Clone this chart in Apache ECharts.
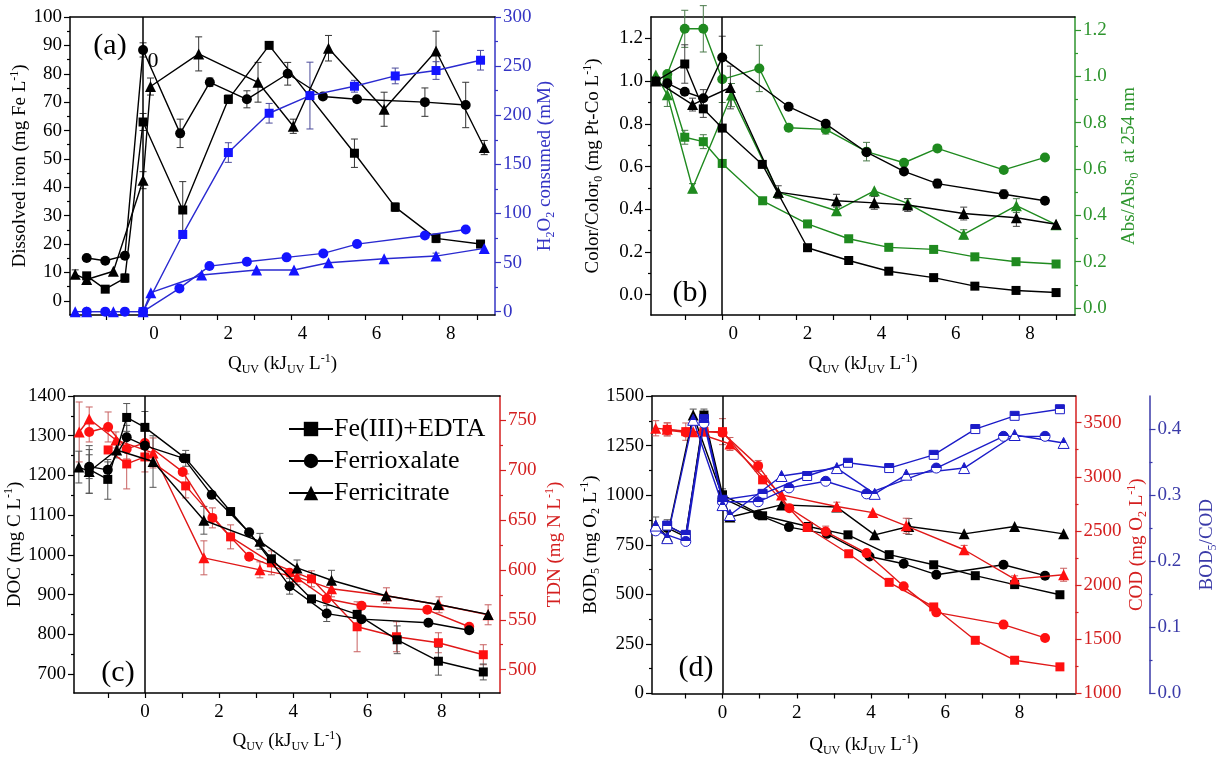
<!DOCTYPE html>
<html>
<head>
<meta charset="utf-8">
<script src="https://cdn.jsdelivr.net/npm/echarts@6/dist/echarts.min.js"></script>
<style>html,body{margin:0;padding:0;background:#fff}#chart{width:1220px;height:758px}</style>
</head>
<body>
<div id="chart"></div>
<script>
const SERIF = 'Liberation Serif';

// ---------- shared x axis (UV dose) ----------
const qTickLabels = [0, 2, 4, 6, 8];
const qRangeA = [-1.97, 9.49];
const qRangeB = [-1.92, 9.51];
const qRangeC = [-1.91, 9.57];
const qRangeD = [-1.90, 9.51];

// ---------- panel (a): dissolved iron / H2O2 consumed ----------
// points are [Q_UV, value, error]
const ironEdta = [[-1.52,8.8],[-1.02,4.1],[-0.49,8.0,1.5],[0,63,3],[1.07,32,10],[2.3,71,1.5],[3.4,90],[5.7,52,5],[6.8,33,1.5],[7.9,22,1.5],[9.1,20,1]];
const ironOxalate = [[-1.52,15.1],[-1.02,14.1],[-0.49,15.9],[0,88.4,2.5],[1.0,59,5],[1.8,77,1.5],[2.8,71,3],[3.9,80,4],[4.85,72,1],[5.77,71,1],[7.6,70,5],[8.7,69,8]];
const ironCitrate = [[-1.83,9.4,1.5],[-1.52,7.5],[-0.8,10.4],[0,42.5,3],[0.2,75.5,3],[1.5,87,6],[3.1,77,7],[4.05,61.5,2.5],[5.0,89,4.5],[6.5,67.5,6],[7.9,88,7],[9.2,54,2.5]];
const h2o2Edta = [[0,0],[1.07,78.6,3],[2.3,162,10],[3.4,202,10],[4.5,220,34],[5.7,229.5,6],[6.8,240,8],[7.9,245.5,9],[9.1,256,10]];
const h2o2Oxalate = [[-1.52,0],[-1.02,0],[-0.49,0],[0,0],[0.98,23.7,2],[1.79,46.4,2],[2.8,50.8],[3.87,55.3],[4.86,59.3],[5.77,68.8],[7.6,77.6],[8.7,83.7]];
const h2o2Citrate = [[-1.83,0],[-1.52,0],[-0.8,0],[0,0],[0.21,19.3],[1.58,37.3],[3.06,42.4],[4.07,42.4],[5.0,49.8],[6.5,53.9],[7.9,56.6,3],[9.2,64.4]];
const ironTicks = [0,10,20,30,40,50,60,70,80,90,100];
const ironMinor = [5,15,25,35,45,55,65,75,85,95];
const h2o2Ticks = [0,50,100,150,200,250,300];
const h2o2Minor = [25,75,125,175,225,275];

// ---------- panel (b): colour and absorbance ----------
const colorEdta = [[-1.79,1.0],[-1.01,1.08,0.09],[-0.51,0.87,0.04],[0,0.78],[1.08,0.61],[2.3,0.22],[3.41,0.16],[4.49,0.11],[5.7,0.08],[6.81,0.04],[7.92,0.02],[9.0,0.01]];
const colorOxalate = [[-1.48,0.99],[-1.01,0.95],[-0.51,0.92,0.04],[0,1.11,0.1],[1.79,0.88],[2.79,0.80],[3.89,0.667],[4.9,0.577],[5.8,0.52,0.02],[7.59,0.47,0.02],[8.7,0.44]];
const colorCitrate = [[-1.79,1.0],[-0.80,0.89,0.03],[0.22,0.97,0.1],[1.51,0.48,0.03],[3.08,0.44,0.03],[4.1,0.43,0.03],[5.0,0.42,0.03],[6.51,0.38,0.03],[7.93,0.36,0.04],[9.0,0.33]];
const absEdta = [[-1.48,0.98],[-1.01,0.737,0.03],[-0.51,0.718,0.03],[0,0.624],[1.09,0.463],[2.3,0.363],[3.41,0.299],[4.49,0.262],[5.7,0.253],[6.81,0.221],[7.92,0.2],[9.0,0.19]];
const absOxalate = [[-1.48,1.01],[-1.01,1.205,0.08],[-0.51,1.205,0.1],[0,0.987,0.1],[1.0,1.034,0.1],[1.79,0.778],[2.79,0.771,0.02],[3.89,0.675,0.04],[4.9,0.627],[5.8,0.689],[7.59,0.596],[8.7,0.65]];
const absCitrate = [[-1.79,1.006],[-1.48,0.92,0.05],[-0.80,0.517,0.02],[0.25,0.919,0.05],[1.51,0.499],[3.08,0.42,0.02],[4.1,0.506],[5.0,0.452,0.02],[6.51,0.318,0.02],[7.93,0.442,0.03],[9.0,0.36]];
const colorTicks = [0,0.2,0.4,0.6,0.8,1.0,1.2];
const colorMinor = [0.1,0.3,0.5,0.7,0.9,1.1];
const absTicks = [0,0.2,0.4,0.6,0.8,1.0,1.2];
const absMinor = [0.1,0.3,0.5,0.7,0.9,1.1];

// ---------- panel (c): DOC / TDN ----------
const docEdta = [[-1.5,1215,60],[-1.0,1190,50],[-0.49,1346,35],[0,1321,40],[1.1,1243,20],[2.31,1109],[3.41,990],[4.49,889],[5.72,850],[6.8,786,35],[7.91,732,35],[9.12,705,20]];
const docOxalate = [[-1.5,1222,30],[-1.0,1214,20],[-0.49,1296,30],[0,1275],[1.05,1243],[1.8,1151],[2.81,1057],[3.9,921,20],[4.9,852,20],[5.84,838],[7.64,829],[8.74,810]];
const docCitrate = [[-1.78,1221,40],[-1.5,1210,55],[-0.76,1264,20],[0.22,1235,65],[1.59,1087,35],[3.1,1034,20],[4.1,967,20],[5.03,936,25],[6.5,897],[7.9,875],[9.25,850]];
const tdnEdta = [[-0.99,720],[-0.49,706,25],[0,713,15],[1.1,684,12],[2.31,633,12],[3.41,607,12],[4.49,591,8],[5.72,543,25],[6.78,533,15],[7.91,527,10],[9.12,515,10]];
const tdnOxalate = [[-1.5,738,10],[-0.99,743,15],[-0.49,721,10],[0,727,15],[1.02,698],[1.82,652,10],[2.81,613],[3.9,597],[4.9,571],[5.84,564],[7.61,560],[8.74,543]];
const tdnCitrate = [[-1.77,738,30],[-1.5,751,12],[-0.78,730,8],[0.22,717,15],[1.59,612,17],[3.1,600,8],[4.1,593,8],[5.03,581,8],[6.51,574,8],[7.93,565,8],[9.25,555,10]];
const docTicks = [700,800,900,1000,1100,1200,1300,1400];
const docMinor = [750,850,950,1050,1150,1250,1350];
const tdnTicks = [500,550,600,650,700,750];
const tdnMinor = [525,575,625,675,725];

// ---------- panel (d): BOD5 / COD / BOD5:COD ----------
const bodEdta = [[-1.49,846,30],[-0.99,800],[-0.5,1404,30],[0,1002,30],[1.08,896,15],[2.31,842],[3.38,800],[4.49,700],[5.69,649],[6.81,594],[7.87,549],[9.09,498]];
const bodOxalate = [[-1.49,835],[-0.99,790],[-0.5,1395,25],[0,985],[0.96,901],[1.79,839],[2.81,805],[3.96,691],[4.88,654],[5.76,599],[7.57,649],[8.69,594]];
const bodCitrate = [[-1.8,850,40],[-1.49,790],[-0.79,1404,30],[0.2,890,20],[1.59,951],[3.08,940],[4.1,800],[5.02,842,40],[6.51,805],[7.87,842],[9.19,805]];
const codEdta = [[-1.49,3438,60],[-0.99,3417,80],[-0.5,3417],[0,3417,120],[1.08,2972],[2.28,2532],[3.40,2290],[4.49,2026],[5.69,1799],[6.81,1491],[7.87,1307,30],[9.09,1246,30]];
const codOxalate = [[-1.49,3430],[-0.99,3410],[-0.5,3417],[0,3407],[0.96,3101,50],[1.8,2711],[2.78,2495,50],[3.88,2296],[4.88,1989],[5.76,1749],[7.57,1636],[8.69,1513]];
const codCitrate = [[-1.8,3448,70],[-1.49,3438,60],[-0.79,3417],[0.2,3303,60],[1.59,2833],[3.08,2726,40],[4.05,2670],[4.95,2548,70],[6.51,2327,40],[7.87,2056,30],[9.19,2096,60]];
const ratioEdta = [[-1.49,0.254],[-0.99,0.24],[-0.5,0.415],[0,0.293],[1.08,0.302],[2.28,0.329],[3.38,0.349],[4.49,0.341],[5.69,0.361],[6.81,0.40],[7.87,0.42],[9.09,0.43]];
const ratioOxalate = [[-1.8,0.246],[-0.99,0.23],[-0.5,0.409],[0,0.29],[0.96,0.29],[1.79,0.311],[2.78,0.321],[3.88,0.302],[5.76,0.341],[7.57,0.389],[8.69,0.389]];
const ratioCitrate = [[-1.8,0.254],[-1.49,0.235],[-0.79,0.414],[0,0.285],[0.2,0.27],[1.59,0.329],[3.08,0.341],[4.1,0.302],[4.95,0.331],[6.51,0.341],[7.87,0.391],[9.19,0.379]];
const bodTicks = [0,250,500,750,1000,1250,1500];
const bodMinor = [125,375,625,875,1125,1375];
const codTicks = [1000,1500,2000,2500,3000,3500];
const codMinor = [1250,1750,2250,2750,3250];
const ratioTicks = [0,0.1,0.2,0.3,0.4];
const ratioMinor = [0.05,0.15,0.25,0.35];

const chelates = ['Fe(III)+EDTA', 'Ferrioxalate', 'Ferricitrate'];

// ---------- colours ----------
const BLACK = '#000000';
const BLUE = '#1414ff', BLUE_LINE = '#2a2ad0', BLUE_AXIS = '#3434c4';
const GREEN = '#1f8a1f', GREEN_AXIS = '#2e952e';
const RED = '#ff1010', RED_LINE = '#e01818', RED_AXIS = '#d42020';
const NAVY = '#1c1cc8', NAVY_AXIS = '#3a3aa8';

// ---------- text helpers ----------
function rich(color, size) {
  const small = Math.round(size * 0.62);
  return {
    n: {fontFamily: SERIF, fontSize: size, color, lineHeight: 24, verticalAlign: 'middle'},
    s: {fontFamily: SERIF, fontSize: small, color, padding: [11, 0, 0, 0], verticalAlign: 'middle'},
    p: {fontFamily: SERIF, fontSize: small, color, padding: [0, 0, 11, 0], verticalAlign: 'middle'}
  };
}
const T_Q = '{n|Q}{s|UV}{n| (kJ}{s|UV}{n| L}{p|-1}{n|)}';

// ---------- builders ----------
const grids = [], xAxes = [], yAxes = [], series = [];

function addGrid(rect) { grids.push(rect); return grids.length - 1; }

function addXAxis(g, range, shift, nameGap) {
  const ticks = [];
  for (let v = Math.ceil(range[0]); v <= Math.floor(range[1]); v++) ticks.push(v);
  xAxes.push({
    type: 'value', gridIndex: g, position: 'bottom', min: range[0], max: range[1],
    axisLine: {show: true, onZero: false, lineStyle: {color: BLACK, width: 1.5}},
    axisTick: {show: true, length: 5, customValues: ticks, lineStyle: {color: BLACK, width: 1.2}},
    axisLabel: {show: true, customValues: qTickLabels, fontFamily: SERIF, fontSize: 19, color: BLACK, margin: 10, padding: [0, 0, 0, shift]},
    splitLine: {show: false},
    name: T_Q, nameLocation: 'middle', nameGap,
    nameTextStyle: {fontFamily: SERIF, fontSize: 19, color: BLACK, rich: rich(BLACK, 19)}
  });
  const xi = xAxes.length - 1;
  xAxes.push({
    type: 'value', gridIndex: g, position: 'top', min: range[0], max: range[1],
    axisLine: {show: true, onZero: false, lineStyle: {color: BLACK, width: 1.5}},
    axisTick: {show: false}, axisLabel: {show: false}, splitLine: {show: false}
  });
  return xi;
}

function addYAxis(g, o) {
  const lc = o.labelColor || o.color;
  yAxes.push({
    type: 'value', gridIndex: g, position: o.pos, offset: o.offset || 0, min: o.range[0], max: o.range[1],
    axisLine: {show: true, onZero: false, lineStyle: {color: o.color, width: 1.5}},
    axisTick: {show: true, length: 6, customValues: o.majors, lineStyle: {color: o.color, width: 1.2}},
    axisLabel: {customValues: o.majors, formatter: o.fmt, fontFamily: SERIF, fontSize: 19, color: lc, margin: 8},
    splitLine: {show: false},
    name: o.name, nameLocation: 'middle', nameGap: o.nameGap, nameRotate: 90,
    nameTextStyle: {fontFamily: SERIF, fontSize: 19, color: lc, rich: rich(lc, 19)}
  });
  const yi = yAxes.length - 1;
  yAxes.push({
    type: 'value', gridIndex: g, position: o.pos, offset: o.offset || 0, min: o.range[0], max: o.range[1],
    axisLine: {show: false, onZero: false},
    axisTick: {show: true, length: 3, customValues: o.minors, lineStyle: {color: o.color, width: 1.2}},
    axisLabel: {show: false}, splitLine: {show: false}
  });
  return yi;
}

function errRender(params, api) {
  const x = api.value(0), y = api.value(1), e = api.value(2);
  const a = api.coord([x, y + e]), b = api.coord([x, y - e]);
  const st = {stroke: api.visual('color'), lineWidth: 1};
  return {type: 'group', children: [
    {type: 'line', shape: {x1: a[0], y1: a[1], x2: b[0], y2: b[1]}, style: st},
    {type: 'line', shape: {x1: a[0] - 3.5, y1: a[1], x2: a[0] + 3.5, y2: a[1]}, style: st},
    {type: 'line', shape: {x1: b[0] - 3.5, y1: b[1], x2: b[0] + 3.5, y2: b[1]}, style: st}
  ]};
}

const SIZE = {rect: 9, circle: 10, triangle: 11};

function addSeries(name, data, xi, yi, sym, o) {
  const s = {
    type: 'line', name, xAxisIndex: xi, yAxisIndex: yi,
    data: data.map(d => [d[0], d[1]]),
    symbol: sym, symbolSize: SIZE[sym],
    itemStyle: {color: o.fill, borderColor: o.border || o.fill, borderWidth: o.border ? 1 : 0},
    lineStyle: {color: o.line, width: 1.4},
    z: o.z || 3, silent: true, animation: false, emphasis: {disabled: true}
  };
  if (o.vline) {
    s.markLine = {silent: true, symbol: ['none', 'none'], label: {show: false}, animation: false,
      lineStyle: {color: BLACK, type: 'solid', width: 1.5}, data: [{xAxis: 0}]};
  }
  series.push(s);
  const errs = data.filter(d => d.length > 2);
  if (errs.length) {
    series.push({type: 'custom', xAxisIndex: xi, yAxisIndex: yi, data: errs, renderItem: errRender,
      encode: {x: 0, y: 1}, itemStyle: {color: o.err}, z: (o.z || 3) - 1, silent: true, animation: false});
  }
}

function halfFill(color) {
  return new echarts.graphic.LinearGradient(0, 0, 0, 1, [
    {offset: 0, color}, {offset: 0.5, color}, {offset: 0.5, color: '#ffffff'}, {offset: 1, color: '#ffffff'}
  ]);
}

const SYMS = ['rect', 'circle', 'triangle'];

// ---------- panel (a) ----------
const gA = addGrid({left: 70, top: 17, width: 425, height: 298});
const xA = addXAxis(gA, qRangeA, 22, 37);
const yA1 = addYAxis(gA, {pos: 'left', range: [-5, 100], majors: ironTicks, minors: ironMinor, color: BLACK,
  fmt: v => String(Math.round(v)), name: '{n|Dissolved iron (mg Fe L}{p|-1}{n|)}', nameGap: 33});
const yA2 = addYAxis(gA, {pos: 'right', range: [-3.4, 300], majors: h2o2Ticks, minors: h2o2Minor, color: BLUE_AXIS,
  fmt: v => String(Math.round(v)), name: '{n|H}{s|2}{n|O}{s|2}{n| consumed (mM)}', nameGap: 38});
[ironEdta, ironOxalate, ironCitrate].forEach((d, i) =>
  addSeries('iron ' + chelates[i], d, xA, yA1, SYMS[i], {fill: BLACK, line: BLACK, err: '#333', vline: i === 0, z: 4}));
[h2o2Edta, h2o2Oxalate, h2o2Citrate].forEach((d, i) =>
  addSeries('h2o2 ' + chelates[i], d, xA, yA2, SYMS[i], {fill: BLUE, line: BLUE_LINE, err: '#4a4a9a', z: 5}));

// ---------- panel (b) ----------
const gB = addGrid({left: 651, top: 17, width: 424, height: 298});
const xB = addXAxis(gB, qRangeB, 22, 37);
const yB1 = addYAxis(gB, {pos: 'left', range: [-0.095, 1.3], majors: colorTicks, minors: colorMinor, color: BLACK,
  fmt: v => v.toFixed(1), name: '{n|Color/Color}{s|0}{n| (mg Pt-Co L}{p|-1}{n|)}', nameGap: 46});
const yB2 = addYAxis(gB, {pos: 'right', range: [-0.03, 1.256], majors: absTicks, minors: absMinor, color: GREEN_AXIS,
  fmt: v => v.toFixed(1), name: '{n|Abs/Abs}{s|0}{n|  at 254 nm}', nameGap: 42});
[colorEdta, colorOxalate, colorCitrate].forEach((d, i) =>
  addSeries('color ' + chelates[i], d, xB, yB1, SYMS[i], {fill: BLACK, line: BLACK, err: '#444', vline: i === 0, z: 5}));
[absEdta, absOxalate, absCitrate].forEach((d, i) =>
  addSeries('abs ' + chelates[i], d, xB, yB2, SYMS[i], {fill: GREEN, line: GREEN, err: '#4a7a4a', z: 4}));

// ---------- panel (c) ----------
const gC = addGrid({left: 74, top: 396, width: 426, height: 297});
const xC = addXAxis(gC, qRangeC, 0, 36);
const yC1 = addYAxis(gC, {pos: 'left', range: [652, 1400], majors: docTicks, minors: docMinor, color: BLACK,
  fmt: v => String(Math.round(v)), name: '{n|DOC (mg C L}{p|-1}{n|)}', nameGap: 44});
const yC2 = addYAxis(gC, {pos: 'right', range: [476.7, 774], majors: tdnTicks, minors: tdnMinor, color: RED_AXIS,
  fmt: v => String(Math.round(v)), name: '{n|TDN (mg N L}{p|-1}{n|)}', nameGap: 43});
[docEdta, docOxalate, docCitrate].forEach((d, i) =>
  addSeries(chelates[i], d, xC, yC1, SYMS[i], {fill: BLACK, line: BLACK, err: '#555', vline: i === 0, z: 5}));
[tdnEdta, tdnOxalate, tdnCitrate].forEach((d, i) =>
  addSeries('tdn ' + chelates[i], d, xC, yC2, SYMS[i], {fill: RED, line: RED_LINE, err: '#c86060', z: 4}));

// ---------- panel (d) ----------
const gD = addGrid({left: 652, top: 396, width: 424, height: 298});
const xD = addXAxis(gD, qRangeD, 0, 40);
const yD1 = addYAxis(gD, {pos: 'left', range: [0, 1500], majors: bodTicks, minors: bodMinor, color: BLACK,
  fmt: v => String(Math.round(v)), name: '{n|BOD}{s|5}{n| (mg O}{s|2}{n| L}{p|-1}{n|)}', nameGap: 47});
const yD2 = addYAxis(gD, {pos: 'right', range: [1000, 3746], majors: codTicks, minors: codMinor, color: RED_AXIS,
  fmt: v => String(Math.round(v)), name: '{n|COD (mg O}{s|2}{n| L}{p|-1}{n|)}', nameGap: 44});
const yD3 = addYAxis(gD, {pos: 'right', offset: 74, range: [0, 0.45], majors: ratioTicks, minors: ratioMinor, color: NAVY_AXIS,
  fmt: v => v.toFixed(1), name: '{n|BOD}{s|5}{n|/COD}', nameGap: 46});
[bodEdta, bodOxalate, bodCitrate].forEach((d, i) =>
  addSeries('bod ' + chelates[i], d, xD, yD1, SYMS[i], {fill: BLACK, line: BLACK, err: '#555', vline: i === 0, z: 4}));
[codEdta, codOxalate, codCitrate].forEach((d, i) =>
  addSeries('cod ' + chelates[i], d, xD, yD2, SYMS[i], {fill: RED, line: RED_LINE, err: '#c86060', z: 5}));
[ratioEdta, ratioOxalate, ratioCitrate].forEach((d, i) =>
  addSeries('ratio ' + chelates[i], d, xD, yD3, SYMS[i], {fill: halfFill(NAVY), border: NAVY, line: NAVY, err: '#55a', z: 6}));

// ---------- panel letters ----------
function letter(text, x, y, size) {
  return {type: 'text', x, y, silent: true,
    style: {text, font: size + 'px "Liberation Serif"', fill: BLACK, align: 'center', verticalAlign: 'middle',
      textAlign: 'center', textVerticalAlign: 'middle'}};
}

const option = {
  backgroundColor: '#ffffff',
  animation: false,
  textStyle: {fontFamily: SERIF},
  grid: grids,
  xAxis: xAxes,
  yAxis: yAxes,
  legend: {
    data: chelates, orient: 'vertical', left: 283, top: 411, itemWidth: 44, itemHeight: 18, itemGap: 6,
    selectedMode: false, textStyle: {fontFamily: SERIF, fontSize: 26, color: BLACK, padding: [0, 0, 0, -4]}
  },
  graphic: [
    letter('(a)', 110, 46, 30),
    letter('(b)', 690, 293, 30),
    letter('(c)', 118, 673, 30),
    letter('(d)', 696, 668, 30),
    letter('0', 153, 61, 22)
  ],
  series
};

const chart = echarts.init(document.getElementById('chart'), null, {renderer: 'canvas'});
chart.setOption(option);
</script>
</body>
</html>
